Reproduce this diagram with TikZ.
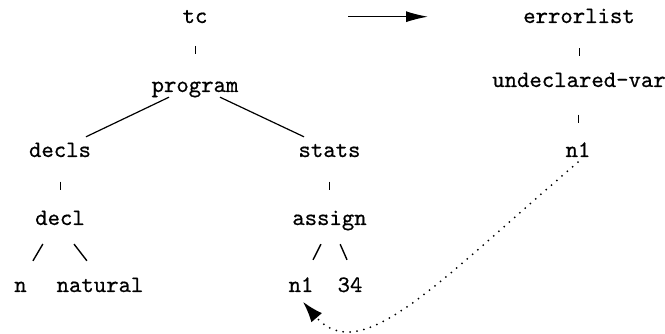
\documentclass[tikz,border=0pt]{standalone}
\usepackage{fontspec}
\newfontfamily\treefont{lmmono10-regular.otf}[FakeBold=0.6]
\usetikzlibrary{arrows.meta,calc}
\begin{document}
\begin{tikzpicture}[x=1pt,y=-1pt,
  lbl/.style={inner sep=0pt, anchor=base, text height=20pt, text depth=5pt,
    font=\fontsize{23.6}{28}\selectfont\treefont},
  tickline/.style={line width=1.4pt, to path={($(\tikztostart)!#1!(\tikztotarget)$) +(0,-4) -- +(0,4)}},
  tickline/.default=0.5,
  edge/.style={line width=1.2pt},
  slash/.style={line width=1.4pt},
  bigarrow/.style={line width=1.2pt, -{Latex[length=22pt,width=11pt]}},
  dotarrow/.style={line width=2pt, line cap=round, dash pattern=on 0pt off 7pt,
    -{Latex[length=21pt,width=14pt]}}
]
\useasboundingbox (0,0) rectangle (665,334);
% left tree
\node[lbl] (tc) at (195,23) {tc};
\node[lbl] (program) at (195,92) {program};
\node[lbl] (decls) at (60,157) {decls};
\node[lbl] (stats) at (329.5,157) {stats};
\node[lbl] (decl) at (60,225) {decl};
\node[lbl] (assign) at (329.5,225) {assign};
\node[lbl] (n) at (20.5,292) {n};
\node[lbl] (natural) at (100,292) {natural};
\node[lbl] (n1l) at (301,292) {n1};
\node[lbl] (v34) at (350,292) {34};
% right tree
\node[lbl] (errorlist) at (579,23) {errorlist};
\node[lbl] (undeclared) at (579,87) {undeclared-var};
\node[lbl] (n1r) at (578,157) {n1};
% ticks
\draw (tc.south) to[tickline=0.5] (program.north);
\draw (decls.south) to[tickline=0.55] (decl.north);
\draw (stats.south) to[tickline=0.55] (assign.north);
\draw (errorlist.south) to[tickline=0.62] (undeclared.north);
\draw (undeclared.south) to[tickline=0.59] (n1r.north);
% diagonal edges
\draw[edge] ([xshift=-26pt]program.south) -- ([xshift=26pt]decls.north);
\draw[edge] ([xshift=25pt]program.south) -- ([xshift=-25.5pt]stats.north);
% slashes
\draw[slash, shorten <=16pt, shorten >=12.7pt] ([xshift=-9pt]decl.south) -- ([xshift=6pt]n.north);
\draw[slash, shorten <=17.6pt, shorten >=13.9pt] ([xshift=3.3pt]decl.south) -- ([xshift=-4.6pt]natural.north);
\draw[slash, shorten <=15.6pt, shorten >=13.4pt] ([xshift=-1.5pt]assign.south) -- ([xshift=6pt]n1l.north);
\draw[slash, shorten <=15.3pt, shorten >=13.1pt] ([xshift=4.5pt]assign.south) -- ([xshift=2.3pt]v34.north);
% top arrow
\coordinate (arrowstart) at (348,16.7);
\coordinate (arrowend) at (428,16.7);
\draw[bigarrow] (arrowstart) -- (arrowend);
% dotted back-reference
\draw[dotarrow, shorten >=6pt] (n1r.south) .. controls (440,280) and (361,369) .. ([xshift=-2pt]n1l.south);
\end{tikzpicture}
\end{document}
